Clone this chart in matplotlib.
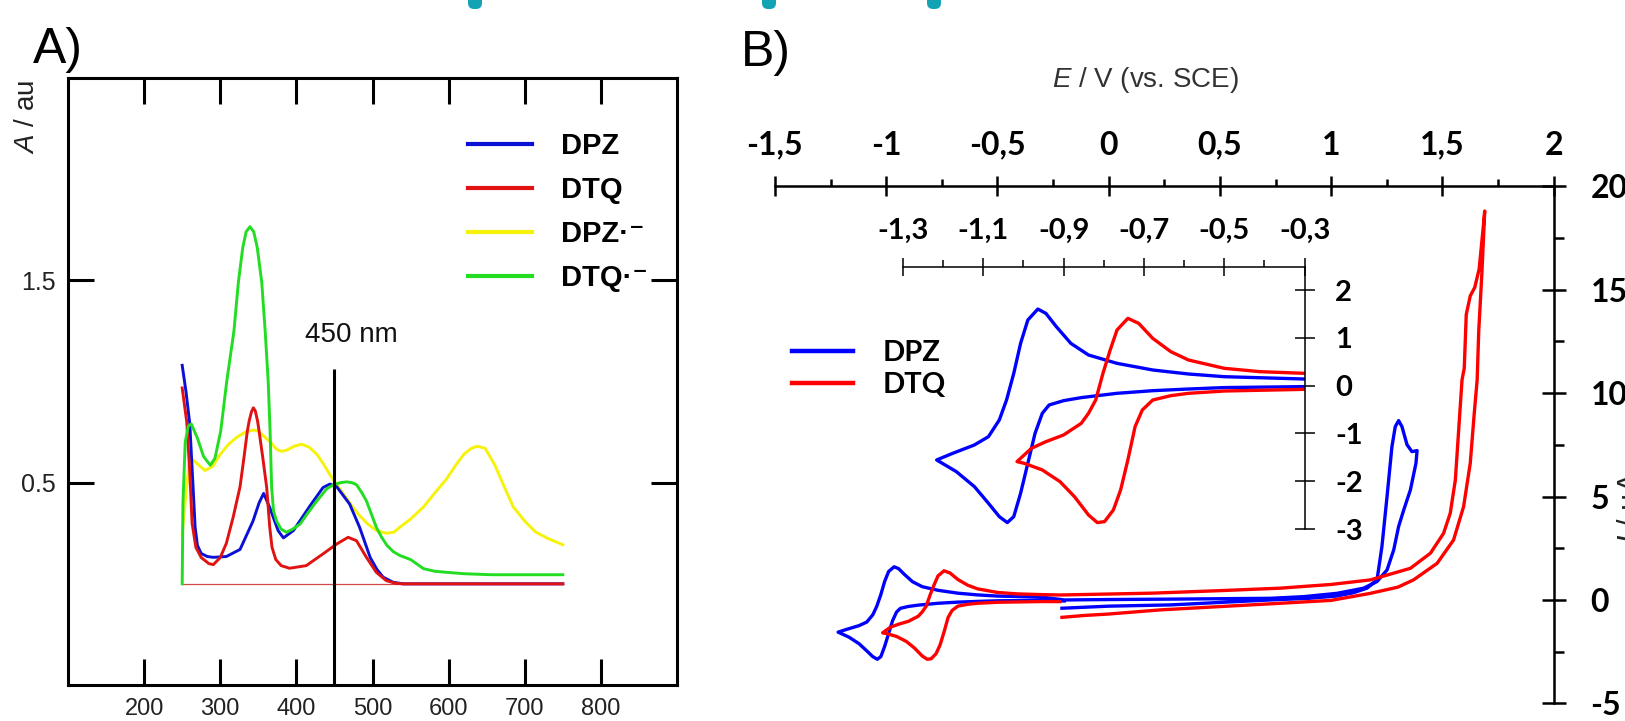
import numpy as np
import matplotlib
matplotlib.use("Agg")
import matplotlib.pyplot as plt
from matplotlib.patches import FancyBboxPatch
from matplotlib.lines import Line2D
from matplotlib.font_manager import FontProperties

# ---- panel A : absorption spectra (wavelength / nm, A / au) ----
dpz_x = [250, 255, 260, 264, 267, 270, 275, 283, 291, 308, 326, 343, 351, 357, 365, 376, 383,
         396, 418, 435, 444, 453, 470, 483, 497, 506, 514, 527, 540, 750]
dpz_y = [1.08, 0.95, 0.79, 0.50, 0.28, 0.19, 0.15, 0.135, 0.131, 0.135, 0.17, 0.31, 0.40, 0.447,
         0.377, 0.263, 0.227, 0.263, 0.386, 0.476, 0.493, 0.48, 0.394, 0.28, 0.13, 0.07, 0.033,
         0.008, 0.0, 0.0]

dtq_x = [250, 256, 260, 263, 268, 275, 285, 291, 300, 308, 317, 326, 331, 335.6, 338, 341,
         343.5, 346, 349, 351, 356, 361, 365, 368, 373, 380, 391, 413, 435, 453, 468, 479, 492,
         505, 518, 530, 540, 750]
dtq_y = [0.968, 0.80, 0.55, 0.30, 0.18, 0.13, 0.10, 0.095, 0.13, 0.20, 0.33, 0.48, 0.62, 0.755,
         0.805, 0.85, 0.87, 0.855, 0.805, 0.755, 0.62, 0.476, 0.28, 0.18, 0.12, 0.09, 0.077,
         0.09, 0.148, 0.197, 0.23, 0.213, 0.131, 0.057, 0.016, 0.003, 0.0, 0.0]

dpz_rad_x = [250, 255, 260, 268, 280, 290, 300, 311, 322, 333, 343, 350, 357, 366, 374, 380, 387,
             397, 407, 417, 427, 436, 444, 453, 462, 472, 483, 494, 505, 518, 528, 536, 550, 567,
             582, 597, 610, 620, 630, 638, 648, 661, 673, 685, 700, 714, 730, 750]
dpz_rad_y = [0.246, 0.45, 0.624, 0.60, 0.56, 0.58, 0.64, 0.69, 0.725, 0.75, 0.76, 0.755, 0.73,
             0.70, 0.665, 0.655, 0.66, 0.68, 0.69, 0.675, 0.64, 0.59, 0.54, 0.49, 0.443, 0.39,
             0.337, 0.295, 0.263, 0.25, 0.255, 0.28, 0.32, 0.38, 0.45, 0.517, 0.59, 0.64, 0.67,
             0.68, 0.67, 0.585, 0.48, 0.38, 0.31, 0.257, 0.225, 0.193]

dtq_rad_x = [250, 251, 254, 258, 262, 270, 278, 287, 293, 300.6, 308.5, 318, 323.8, 329.5, 334,
             339, 344, 348.7, 354.5, 359, 363, 365.5, 367.5, 370, 374, 380, 387, 395, 405, 415,
             427, 440, 449, 458, 466, 473, 479, 486, 492, 498, 505, 512, 519, 527, 536, 550, 567,
             582, 597, 620, 656, 700, 750]
dtq_rad_y = [0.0, 0.4, 0.7, 0.78, 0.79, 0.72, 0.63, 0.586, 0.62, 0.755, 1.0, 1.25, 1.49, 1.66,
             1.74, 1.765, 1.74, 1.66, 1.49, 1.25, 1.0, 0.75, 0.476, 0.36, 0.31, 0.27, 0.255,
             0.27, 0.296, 0.35, 0.41, 0.47, 0.49, 0.50, 0.504, 0.50, 0.49, 0.45, 0.41, 0.35,
             0.28, 0.23, 0.19, 0.16, 0.14, 0.12, 0.075, 0.062, 0.057, 0.05, 0.045, 0.045, 0.045]

base_x = [250, 750]
base_y = [0, 0]
mark_nm = 450
mark_top = 1.06

uv_xticks = [200, 300, 400, 500, 600, 700, 800]
uv_yticks = [0.5, 1.5]

# ---- panel B : cyclic voltammograms (E / V vs SCE, I / uA) ----
dpz_cv_e = [-0.21, 0.0, 0.277, 0.5, 0.726, 0.90, 1.026, 1.10, 1.161, 1.206, 1.228, 1.251, 1.273,
            1.288, 1.303, 1.318, 1.341, 1.363, 1.386,
            1.381, 1.356, 1.326, 1.303, 1.281, 1.251, 1.206, 1.146, 1.026, 0.876, 0.726, 0.5,
            0.277, 0.0, -0.2,
            -0.3, -0.5, -0.589, -0.678, -0.767, -0.838, -0.882, -0.918, -0.944, -0.964, -0.989,
            -1.007, -1.024, -1.042, -1.06, -1.087, -1.122, -1.176, -1.216,
            -1.167, -1.122, -1.087, -1.06, -1.040, -1.024, -1.007, -0.989, -0.971, -0.953,
            -0.936, -0.9, -0.856, -0.767, -0.678, -0.589, -0.5, -0.3, -0.2]
dpz_cv_i = [-0.40, -0.30, -0.24, -0.12, 0.0, 0.08, 0.19, 0.35, 0.57, 0.97, 2.58, 5.0, 7.41,
            8.38, 8.67, 8.38, 7.5, 7.17, 7.22,
            6.61, 5.32, 4.35, 3.55, 2.42, 1.45, 0.89, 0.57, 0.32, 0.16, 0.08, 0.06,
            0.04, 0.02, 0.0,
            0.139, 0.188, 0.244, 0.328, 0.467, 0.642, 0.886, 1.234, 1.513, 1.604, 1.374,
            0.886, 0.258, -0.30, -0.718, -1.067, -1.241, -1.416, -1.555,
            -1.799, -2.113, -2.462, -2.741, -2.866, -2.741, -2.252, -1.625, -0.997, -0.579,
            -0.404, -0.314, -0.25, -0.16, -0.105, -0.07, -0.04, -0.02, -0.05]

dtq_cv_e = [-0.21, -0.11, 0.0, 0.232, 0.5, 0.771, 1.0, 1.176, 1.30, 1.370, 1.476, 1.550, 1.595,
            1.625, 1.643, 1.656, 1.663, 1.678, 1.69,
            1.685, 1.665, 1.645, 1.625, 1.607, 1.598, 1.588, 1.573, 1.558, 1.535, 1.505, 1.446,
            1.356, 1.176, 1.0, 0.771, 0.5, 0.2, -0.218,
            -0.3, -0.411, -0.5, -0.589, -0.633, -0.678, -0.713, -0.74, -0.767, -0.784, -0.802,
            -0.82, -0.838, -0.856, -0.9, -0.944, -0.98, -1.016,
            -0.998, -0.953, -0.909, -0.873, -0.838, -0.816, -0.798, -0.776, -0.758, -0.74,
            -0.722, -0.704, -0.678, -0.633, -0.589, -0.5, -0.3, -0.22]
dtq_cv_i = [-0.84, -0.75, -0.68, -0.48, -0.32, -0.16, -0.02, 0.32, 0.62, 0.97, 1.77, 2.9, 4.51,
            6.61, 9.03, 10.64, 12.96, 15.96, 18.8,
            18.2, 16.0, 15.1, 14.7, 13.8, 11.2, 10.64, 8.22, 5.8, 4.19, 3.22, 2.26,
            1.53, 0.97, 0.75, 0.57, 0.45, 0.33, 0.24,
            0.258, 0.293, 0.363, 0.537, 0.711, 0.99, 1.304, 1.409, 1.165, 0.746, 0.258,
            -0.30, -0.579, -0.788, -1.032, -1.172, -1.311, -1.59,
            -1.625, -1.764, -2.008, -2.322, -2.706, -2.866, -2.845, -2.601, -2.183, -1.555,
            -0.858, -0.509, -0.30, -0.209, -0.16, -0.112, -0.077, -0.08]

cv_xticks = [-1.5, -1.0, -0.5, 0.0, 0.5, 1.0, 1.5, 2.0]
cv_xticklabels = ['-1,5', '-1', '-0,5', '0', '0,5', '1', '1,5', '2']
cv_yticks = [-5, 0, 5, 10, 15, 20]
cv_yticklabels = ['-5', '0', '5', '10', '15', '20']
ins_xticks = [-1.3, -1.1, -0.9, -0.7, -0.5, -0.3]
ins_xticklabels = ['-1,3', '-1,1', '-0,9', '-0,7', '-0,5', '-0,3']
ins_yticks = [-3, -2, -1, 0, 1, 2]
ins_yticklabels = ['-3', '-2', '-1', '0', '1', '2']

plt.rcParams['font.family'] = ['Liberation Sans', 'DejaVu Sans']
plt.rcParams['mathtext.fontset'] = 'custom'
plt.rcParams['mathtext.rm'] = 'Liberation Sans'
plt.rcParams['mathtext.it'] = 'Liberation Sans:italic'
plt.rcParams['mathtext.bf'] = 'Liberation Sans:bold'

W, H = 1625, 721
fig = plt.figure(figsize=(W / 100, H / 100), dpi=100)


def px_axes(left, top, right, bottom):
    return fig.add_axes([left / W, 1 - bottom / H, (right - left) / W, (bottom - top) / H])


def style_labels(labels, family, size, weight='bold', color='black'):
    for lab in labels:
        lab.set_family(family)
        lab.set_fontsize(size)
        lab.set_fontweight(weight)
        lab.set_color(color)


BLUE_A, RED_A, YEL_A, GRN_A = '#0a10d6', '#e01212', '#f7f20a', '#22dd22'

# ================= panel A =================
axA = px_axes(68, 78, 677, 685)
axA.plot(dpz_rad_x, dpz_rad_y, color=YEL_A, lw=2.1, zorder=2)
axA.plot(dpz_x, dpz_y, color=BLUE_A, lw=2.1, zorder=3)
axA.plot(dtq_x, dtq_y, color=RED_A, lw=2.1, zorder=4)
axA.plot(dtq_rad_x, dtq_rad_y, color=GRN_A, lw=2.1, zorder=5)
axA.plot(base_x, base_y, color='#d24848', lw=0.9, zorder=1)
axA.vlines(mark_nm, -0.5, mark_top, color='black', lw=2.2, zorder=6)
axA.text(472, 1.228, '450 nm', ha='center', va='center', fontsize=20, color='#111111')

axA.set_xlim(100, 900)
axA.set_ylim(-0.5, 2.5)
axA.set_xticks(uv_xticks)
axA.set_yticks(uv_yticks)
axA.set_yticklabels([f'{v:.1f}' for v in uv_yticks])
axA.tick_params(direction='in', length=19, width=2.2, top=True, right=True,
                labelsize=17, labelcolor='#222222')
axA.tick_params(axis='x', labelsize=17, pad=9.5)
axA.tick_params(axis='y', labelsize=18, pad=9)
for s in axA.spines.values():
    s.set_linewidth(2.2)

handlesA = [Line2D([], [], color=c, lw=3.0) for c in (BLUE_A, RED_A, YEL_A, GRN_A)]
axA.legend(handlesA, ['DPZ', 'DTQ', 'DPZ·⁻', 'DTQ·⁻'], loc='upper left',
           bbox_to_anchor=(468 / W, 1 - 132 / H), bbox_transform=fig.transFigure,
           frameon=False, borderpad=0, borderaxespad=0, handlelength=2.2,
           handletextpad=1.0, labelspacing=0.55,
           prop=FontProperties(family=['Liberation Sans', 'DejaVu Sans'], weight='bold', size=21))

fig.text(27 / W, 1 - 117 / H, r'$A$ / au', rotation=90, ha='center', va='center',
         fontsize=20, color='#222222')
fig.text(33 / W, 1 - 63 / H, 'A)', ha='left', va='baseline', fontsize=36)

# ================= panel B =================
LATO = ['Lato', 'DejaVu Sans']
axB = px_axes(774.9, 186.2, 1553.7, 703.4)
axB.patch.set_visible(False)
axB.plot(dpz_cv_e, dpz_cv_i, color='#0000ff', lw=2.4)
axB.plot(dtq_cv_e, dtq_cv_i, color='#ff0000', lw=2.4)
axB.set_xlim(-1.5, 2.0)
axB.set_ylim(-5, 20)
axB.spines['left'].set_visible(False)
axB.spines['bottom'].set_visible(False)
axB.spines['top'].set_linewidth(1.8)
axB.spines['right'].set_linewidth(1.8)
axB.xaxis.set_ticks_position('top')
axB.yaxis.set_ticks_position('right')
axB.set_xticks(cv_xticks)
axB.set_xticklabels(cv_xticklabels)
axB.set_xticks(np.arange(-1.25, 2.0, 0.5), minor=True)
axB.set_yticks(cv_yticks)
axB.set_yticklabels(cv_yticklabels)
axB.set_yticks(np.arange(-2.5, 20, 5), minor=True)
axB.tick_params(axis='x', which='major', direction='inout', length=14, width=1.8, pad=12)
axB.tick_params(axis='x', which='minor', direction='out', length=5, width=1.8)
axB.tick_params(axis='y', which='major', direction='inout', length=17, width=1.8, pad=18)
axB.tick_params(axis='y', which='minor', direction='out', length=7.5, width=1.8)
style_labels(axB.get_xticklabels() + axB.get_yticklabels(), LATO, 23)

# inset: zoom of the reduction region
axI = px_axes(902.9, 266.7, 1304.6, 529)
axI.patch.set_visible(False)
axI.plot(dpz_cv_e, dpz_cv_i, color='#0000ff', lw=2.4)
axI.plot(dtq_cv_e, dtq_cv_i, color='#ff0000', lw=2.4)
axI.set_xlim(-1.3, -0.3)
axI.set_ylim(-3, 2.49)
axI.spines['left'].set_visible(False)
axI.spines['bottom'].set_visible(False)
axI.spines['top'].set_linewidth(1.1)
axI.spines['right'].set_linewidth(1.1)
axI.xaxis.set_ticks_position('top')
axI.yaxis.set_ticks_position('right')
axI.set_xticks(ins_xticks)
axI.set_xticklabels(ins_xticklabels)
axI.set_xticks(np.arange(-1.2, -0.3, 0.2), minor=True)
axI.set_yticks(ins_yticks)
axI.set_yticklabels(ins_yticklabels)
axI.tick_params(axis='x', which='major', direction='inout', length=13, width=1.1, pad=10)
axI.tick_params(axis='x', which='minor', direction='out', length=5, width=1.1)
axI.tick_params(axis='y', which='major', direction='inout', length=14, width=1.1, pad=15)
style_labels(axI.get_xticklabels() + axI.get_yticklabels(), LATO, 21)

handlesB = [Line2D([], [], color=c, lw=3.2) for c in ('#0000ff', '#ff0000')]
axB.legend(handlesB, ['DPZ', 'DTQ'], loc='upper left',
           bbox_to_anchor=(792 / W, 1 - 340 / H), bbox_transform=fig.transFigure,
           frameon=False, borderpad=0, borderaxespad=0, handlelength=2.1,
           handletextpad=1.0, labelspacing=0.2,
           prop=FontProperties(family=LATO, weight='bold', size=21))

fig.text(1145 / W, 1 - 80 / H, r'$E$ / V (vs. SCE)', ha='center', va='center',
         fontsize=20, color='#333333')
fig.text(1615 / W, 1 - 507 / H, r'$I$ / µA', rotation=90, ha='left', va='center',
         fontsize=22, color='#222222')
fig.text(741 / W, 1 - 66 / H, 'B)', ha='left', va='baseline', fontsize=36)

# slide decoration cut by the crop
for xl in (468, 762, 927):
    fig.add_artist(FancyBboxPatch((xl, H - 9), 14, 30, boxstyle='round,pad=0,rounding_size=6',
                                  transform=None, facecolor='#13a3b5', edgecolor='none'))

fig.savefig('out.png', dpi=100)
